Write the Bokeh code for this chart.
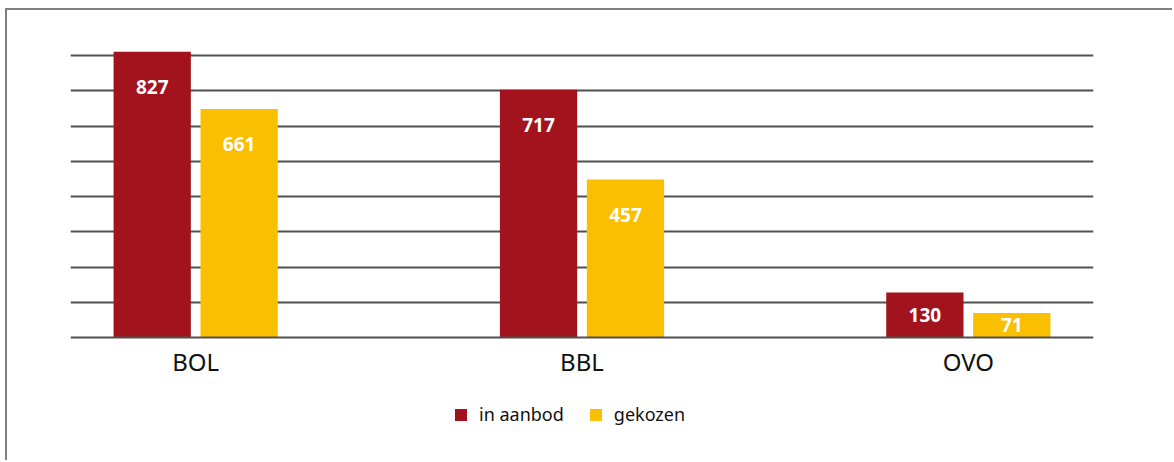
from bokeh.plotting import figure
from bokeh.models import ColumnDataSource, FactorRange, FixedTicker, Legend, LegendItem
from bokeh.transform import dodge
from bokeh.core.properties import value
from bokeh.embed import file_html
from bokeh.resources import INLINE

categories = ["BOL", "BBL", "OVO"]
in_aanbod = [827, 717, 130]
gekozen = [661, 457, 71]
series_names = ["in aanbod", "gekozen"]
colors = ["#a3131d", "#fbbf02"]

PX_PER_UNIT = 0.3455
label_drop = 35 / PX_PER_UNIT

def label_y(vals):
    return [max(v - label_drop, v / 2) for v in vals]

src = ColumnDataSource(dict(
    cat=categories,
    a=in_aanbod, g=gekozen,
    a_txt=[str(v) for v in in_aanbod], g_txt=[str(v) for v in gekozen],
    a_y=label_y(in_aanbod), g_y=label_y(gekozen),
))

# frame: page y 20 (top) .. 460 (bottom), baseline (0) at page y 337
y_end = (337 - 20) / PX_PER_UNIT
y_start = -(460 - 337) / PX_PER_UNIT
grid_step = 35.25 / PX_PER_UNIT

p = figure(x_range=FactorRange(*categories, range_padding=-0.176, range_padding_units="absolute"),
           y_range=(y_start, y_end), width=1165, height=450,
           frame_width=1023, frame_height=440,
           output_backend="svg", toolbar_location=None,
           min_border_left=63, min_border_right=79, min_border_top=10, min_border_bottom=0)
p.styles = {"border-top": "2px solid #808080", "border-left": "2px solid #808080",
            "margin-left": "5px", "margin-top": "8px"}
p.outline_line_color = None

off = 0.1125
bw = 0.2
r1 = p.vbar(x=dodge("cat", -off, range=p.x_range), top="a", width=bw, source=src,
            fill_color=colors[0], line_color=None)
r2 = p.vbar(x=dodge("cat", off, range=p.x_range), top="g", width=bw, source=src,
            fill_color=colors[1], line_color=None)

for col, ycol, o in [("a_txt", "a_y", -off), ("g_txt", "g_y", off)]:
    p.text(x=dodge("cat", o, range=p.x_range), y=ycol, text=col, source=src,
           text_align="center", text_baseline="middle", text_color="white",
           text_font=value("Open Sans"), text_font_style="bold", text_font_size="19px")

p.yaxis.visible = False
p.ygrid.ticker = FixedTicker(ticks=[grid_step * i for i in range(1, 9)])
p.ygrid.grid_line_color = "#505050"
p.ygrid.grid_line_width = 2
p.xgrid.grid_line_color = None

p.xaxis.fixed_location = 0
p.xaxis.axis_line_color = "#505050"
p.xaxis.axis_line_width = 2
p.xaxis.major_tick_line_color = None
p.xaxis.minor_tick_line_color = None
p.xaxis.major_tick_in = 0
p.xaxis.major_tick_out = 0
p.xaxis.major_label_standoff = 7
p.xaxis.major_label_text_font = "Noto Sans"
p.xaxis.major_label_text_font_size = "24px"
p.xaxis.major_label_text_color = "#111111"

legend = Legend(items=[LegendItem(label=series_names[0], renderers=[r1]),
                       LegendItem(label=series_names[1], renderers=[r2])],
                orientation="horizontal", location=(383, 34),
                glyph_width=15, glyph_height=15, label_standoff=11, spacing=24,
                label_text_font="Noto Sans", label_text_font_size="18px",
                label_text_color="#111111", border_line_color=None,
                background_fill_alpha=0, padding=6, margin=0)
p.add_layout(legend, "center")

open("out.html", "w").write(file_html(p, INLINE))
